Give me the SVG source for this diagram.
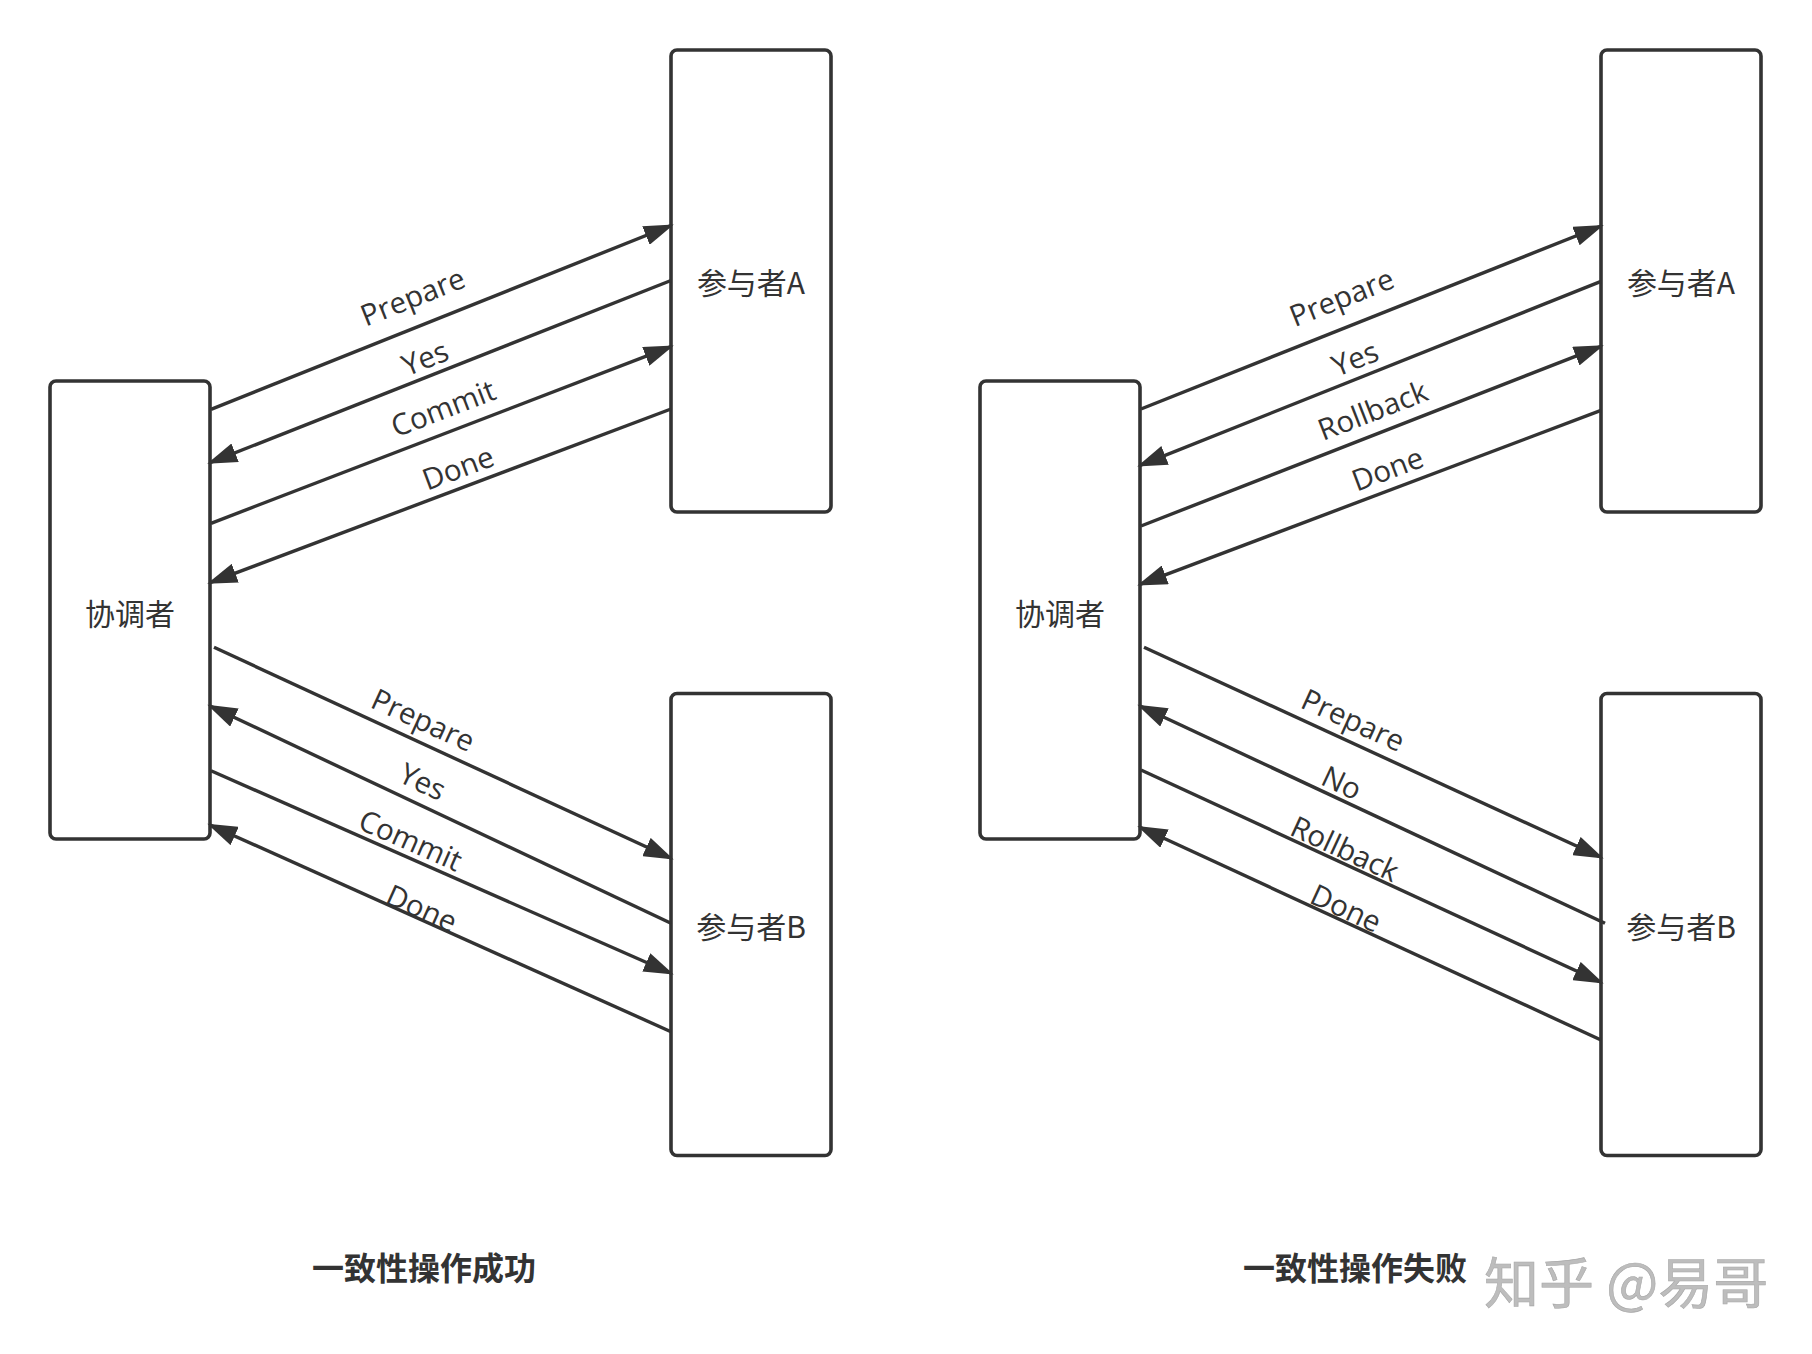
<svg xmlns="http://www.w3.org/2000/svg" width="1812" height="1354" viewBox="0 0 1812 1354">
<style>
.box{fill:#fff;stroke:#333;stroke-width:3.6}
.ln{fill:none;stroke:#333;stroke-width:3.4}
.arr{marker-end:url(#ah)}
.lbl{font-family:"Open Sans","Liberation Sans",sans-serif;font-size:29.5px;fill:#333;text-anchor:middle}
.node{font-family:"Noto Sans CJK SC","Open Sans",sans-serif;font-size:30px;fill:#333;text-anchor:middle;dominant-baseline:central}
.title{font-family:"Noto Sans CJK SC",sans-serif;font-size:32px;font-weight:700;fill:#333;text-anchor:middle;dominant-baseline:central}
.wm{font-family:"Noto Sans CJK SC",sans-serif;font-size:55px;fill:#bdbdbd;stroke:#a8a8a8;stroke-width:0.6;dominant-baseline:central}
</style>
<defs>
<marker id="ah" viewBox="0 0 30 20" markerWidth="30" markerHeight="20" refX="27" refY="10" orient="auto" markerUnits="userSpaceOnUse">
<path d="M0,0 L30,10 L0,20 Z" fill="#333"/>
</marker>
</defs>
<rect width="1812" height="1354" fill="#fff"/>

<g id="coordinator-left"><rect class="box" x="50" y="381" width="160" height="458" rx="6"/><text class="node" x="130" y="612">协调者</text></g>
<g id="participantA-left"><rect class="box" x="671" y="50" width="160" height="462" rx="6"/><text class="node" x="751" y="281">参与者A</text></g>
<g id="participantB-left"><rect class="box" x="671" y="693.5" width="160" height="462" rx="6"/><text class="node" x="751" y="925">参与者B</text></g>

<g id="coordinator-right"><rect class="box" x="980" y="381" width="160" height="458" rx="6"/><text class="node" x="1060" y="612">协调者</text></g>
<g id="participantA-right"><rect class="box" x="1601" y="50" width="160" height="462" rx="6"/><text class="node" x="1681" y="281">参与者A</text></g>
<g id="participantB-right"><rect class="box" x="1601" y="693.5" width="160" height="462" rx="6"/><text class="node" x="1681" y="925">参与者B</text></g>

<g id="connectors">
<!-- left top -->
<line class="ln arr" x1="211" y1="409.3" x2="671" y2="225.5"/>
<line class="ln arr" x1="671" y1="280.5" x2="210" y2="462.7"/>
<line class="ln arr" x1="211" y1="523.3" x2="671" y2="346.7"/>
<line class="ln arr" x1="671" y1="409" x2="210" y2="582.7"/>
<!-- left bottom -->
<line class="ln arr" x1="214" y1="647.3" x2="671" y2="858.3"/>
<line class="ln arr" x1="671" y1="923.3" x2="210" y2="706"/>
<line class="ln arr" x1="211" y1="770.7" x2="671" y2="973.3"/>
<line class="ln arr" x1="671" y1="1031.7" x2="210" y2="825"/>
<!-- right top -->
<line class="ln arr" x1="1141" y1="409" x2="1601" y2="226"/>
<line class="ln arr" x1="1601" y1="281.4" x2="1140" y2="465.4"/>
<line class="ln arr" x1="1141" y1="526" x2="1601" y2="346.3"/>
<line class="ln arr" x1="1601" y1="410.4" x2="1140" y2="584.4"/>
<!-- right bottom -->
<line class="ln arr" x1="1144" y1="647.3" x2="1601" y2="857.3"/>
<line class="ln arr" x1="1605" y1="923.3" x2="1140" y2="706"/>
<line class="ln arr" x1="1141" y1="770" x2="1601" y2="982.3"/>
<line class="ln arr" x1="1601" y1="1040" x2="1140" y2="827.3"/>
</g>

<g id="connector-labels">
<text class="lbl" transform="translate(414,300) rotate(-21.7)" y="7">Prepare</text>
<text class="lbl" transform="translate(425,358) rotate(-21.6)" y="10.5">Yes</text>
<text class="lbl" transform="translate(443,408) rotate(-21)" y="10.8">Commit</text>
<text class="lbl" transform="translate(458,468) rotate(-20.6)" y="10.5">Done</text>

<text class="lbl" transform="translate(421.7,723.3) rotate(24.7)" y="7">Prepare</text>
<text class="lbl" transform="translate(422.7,781.7) rotate(25.3)" y="10.5">Yes</text>
<text class="lbl" transform="translate(410.7,840) rotate(23.8)" y="10.8">Commit</text>
<text class="lbl" transform="translate(421.7,908.3) rotate(24.2)" y="10.5">Done</text>

<text class="lbl" transform="translate(1343,300.5) rotate(-21.7)" y="7">Prepare</text>
<text class="lbl" transform="translate(1355,358.5) rotate(-21.7)" y="10.5">Yes</text>
<text class="lbl" transform="translate(1372.5,410) rotate(-21.3)" y="11">Rollback</text>
<text class="lbl" transform="translate(1387.5,469) rotate(-20.7)" y="10.5">Done</text>

<text class="lbl" transform="translate(1351.7,723.3) rotate(24.6)" y="7">Prepare</text>
<text class="lbl" transform="translate(1341.7,782.7) rotate(25.1)" y="10.5">No</text>
<text class="lbl" transform="translate(1345,848.3) rotate(24.8)" y="11">Rollback</text>
<text class="lbl" transform="translate(1346,908.3) rotate(24.8)" y="10.5">Done</text>
</g>

<g id="titles">
<text class="title" x="424" y="1266">一致性操作成功</text>
<text class="title" x="1355" y="1266">一致性操作失败</text>
</g>
<text class="wm" x="1484" y="1279">知乎 @易哥</text>
</svg>
